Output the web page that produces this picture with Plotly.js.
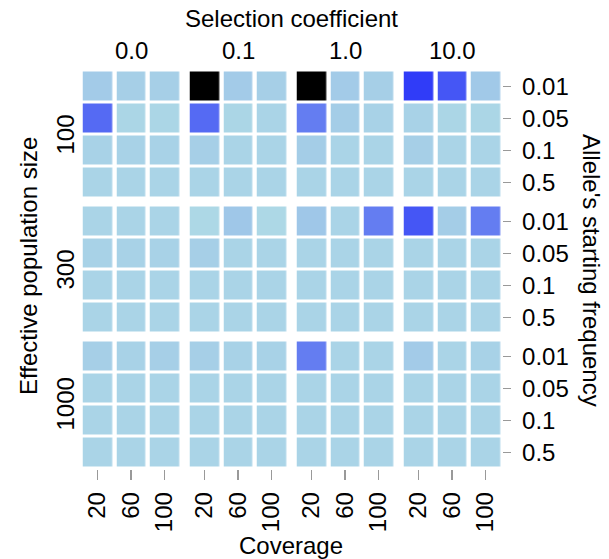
<!DOCTYPE html>
<html>
<head>
<meta charset="utf-8">
<script src="https://cdn.plot.ly/plotly-3.0.1.min.js"></script>
<style>html,body{margin:0;padding:0;background:#fff;}#chart{width:609px;height:559px;}</style>
</head>
<body>
<div id="chart"></div>
<script>
// ---- data ----
const selection = ['0.0', '0.1', '1.0', '10.0'];
const coverage = ['20', '60', '100'];
const popSize = ['100', '300', '1000'];
const startFreq = ['0.01', '0.05', '0.1', '0.5'];
// values per population block: rows = starting frequency, columns = selection x coverage
const valuesN100 = [
  [0.03, 0.02, 0.02, 1.00, 0.03, 0.02, 1.00, 0.03, 0.02, 0.36, 0.30, 0.035],
  [0.255, 0.005, 0.005, 0.255, 0.005, 0.01, 0.21, 0.025, 0.015, 0.015, 0.005, 0.005],
  [0.015, 0.015, 0.015, 0.02, 0.01, 0.01, 0.025, 0.01, 0.01, 0.02, 0.01, 0.01],
  [0.01, 0.01, 0.01, 0.01, 0.01, 0.01, 0.01, 0.01, 0.01, 0.01, 0.01, 0.01]
];
const valuesN300 = [
  [0.01, 0.01, 0.01, 0.0, 0.04, 0.0, 0.04, 0.01, 0.21, 0.30, 0.025, 0.21],
  [0.015, 0.015, 0.015, 0.02, 0.01, 0.01, 0.01, 0.01, 0.01, 0.01, 0.01, 0.01],
  [0.01, 0.01, 0.01, 0.01, 0.01, 0.01, 0.01, 0.01, 0.01, 0.01, 0.01, 0.01],
  [0.01, 0.01, 0.01, 0.01, 0.01, 0.01, 0.01, 0.01, 0.01, 0.01, 0.01, 0.01]
];
const valuesN1000 = [
  [0.02, 0.015, 0.02, 0.02, 0.015, 0.015, 0.21, 0.01, 0.01, 0.03, 0.01, 0.015],
  [0.01, 0.01, 0.01, 0.01, 0.01, 0.01, 0.01, 0.01, 0.01, 0.01, 0.01, 0.01],
  [0.01, 0.01, 0.01, 0.01, 0.01, 0.01, 0.01, 0.01, 0.01, 0.01, 0.01, 0.01],
  [0.01, 0.01, 0.01, 0.01, 0.01, 0.01, 0.01, 0.01, 0.01, 0.01, 0.01, 0.01]
];
const blocks = [valuesN100, valuesN300, valuesN1000];

// ---- layout geometry ----
const W = 609, H = 559;
const mL = 80, mR = 106, mT = 70, mB = 90;
const PW = W - mL - mR, PH = H - mT - mB;
const fx = p => (p - mL) / PW;
const fy = p => (H - mB - p) / PH;
const colStart = g => 80.75 + 107 * g, colW = 100.5;
const rowStart = r => 70.5 + 135 * r, rowH = 128;

const colorscale = [[0, '#add8e6'], [0.5, '#0000ff'], [1, '#000000']];
const FONT = 'Arial, "Liberation Sans", sans-serif';
const fs = 24;

const traces = [];
blocks.forEach((block, r) => {
  selection.forEach((s, g) => {
    const z = block.map(row => row.slice(g * 3, g * 3 + 3));
    traces.push({
      type: 'heatmap',
      z: z,
      x: [0, 1, 2],
      y: [0, 1, 2, 3],
      xaxis: g === 0 ? 'x' : 'x' + (g + 1),
      yaxis: r === 0 ? 'y' : 'y' + (r + 1),
      colorscale: colorscale,
      zmin: 0, zmax: 1,
      showscale: false,
      xgap: 4.5, ygap: 3,
      hoverinfo: 'z'
    });
  });
});

const layout = {
  width: W, height: H,
  margin: {l: mL, r: mR, t: mT, b: mB, pad: 0},
  paper_bgcolor: '#fff', plot_bgcolor: '#fff',
  font: {family: FONT, size: fs, color: '#000'},
  showlegend: false,
  annotations: []
};

selection.forEach((s, g) => {
  const key = g === 0 ? 'xaxis' : 'xaxis' + (g + 1);
  layout[key] = {
    domain: [fx(colStart(g)), fx(colStart(g) + colW)],
    anchor: 'y3',
    range: [-0.5, 2.5],
    tickmode: 'array', tickvals: [0, 1, 2], ticktext: coverage,
    ticks: 'outside', ticklen: 10, tickwidth: 1.5, tickcolor: '#999',
    tickangle: -90, ticklabelstandoff: 3,
    showgrid: false, zeroline: false, showline: false,
    tickfont: {family: FONT, size: fs, color: '#000'}
  };
  layout.annotations.push({
    text: s, xref: g === 0 ? 'x' : 'x' + (g + 1), x: 1,
    yref: 'paper', y: fy(50), yanchor: 'middle', xanchor: 'center',
    showarrow: false, font: {family: FONT, size: fs, color: '#000'}
  });
});

popSize.forEach((p, r) => {
  const key = r === 0 ? 'yaxis' : 'yaxis' + (r + 1);
  layout[key] = {
    domain: [fy(rowStart(r) + rowH), fy(rowStart(r))],
    anchor: 'x4', side: 'right',
    range: [3.5, -0.5],
    tickmode: 'array', tickvals: [0, 1, 2, 3], ticktext: startFreq,
    ticks: 'outside', ticklen: 8, tickwidth: 1.5, tickcolor: '#999',
    ticklabelstandoff: 6,
    showgrid: false, zeroline: false, showline: false,
    tickfont: {family: FONT, size: fs, color: '#000'}
  };
  layout.annotations.push({
    text: p, xref: 'paper', x: fx(65), xanchor: 'center',
    yref: r === 0 ? 'y' : 'y' + (r + 1), y: 1.5, yanchor: 'middle',
    textangle: -90, showarrow: false, font: {family: FONT, size: fs, color: '#000'}
  });
});

layout.annotations.push(
  {text: 'Selection coefficient', xref: 'paper', yref: 'paper', x: fx(291), y: fy(18),
   xanchor: 'center', yanchor: 'middle', showarrow: false, font: {family: FONT, size: fs, color: '#000'}},
  {text: 'Coverage', xref: 'paper', yref: 'paper', x: fx(291), y: fy(545),
   xanchor: 'center', yanchor: 'middle', showarrow: false, font: {family: FONT, size: fs, color: '#000'}},
  {text: 'Effective population size', xref: 'paper', yref: 'paper', x: fx(28), y: fy(266),
   xanchor: 'center', yanchor: 'middle', textangle: -90, showarrow: false, font: {family: FONT, size: fs, color: '#000'}},
  {text: "Allele's starting frequency", xref: 'paper', yref: 'paper', x: fx(592), y: fy(270),
   xanchor: 'center', yanchor: 'middle', textangle: 90, showarrow: false, font: {family: FONT, size: fs, color: '#000'}}
);

Plotly.newPlot('chart', traces, layout, {displayModeBar: false, staticPlot: true});
</script>
</body>
</html>
